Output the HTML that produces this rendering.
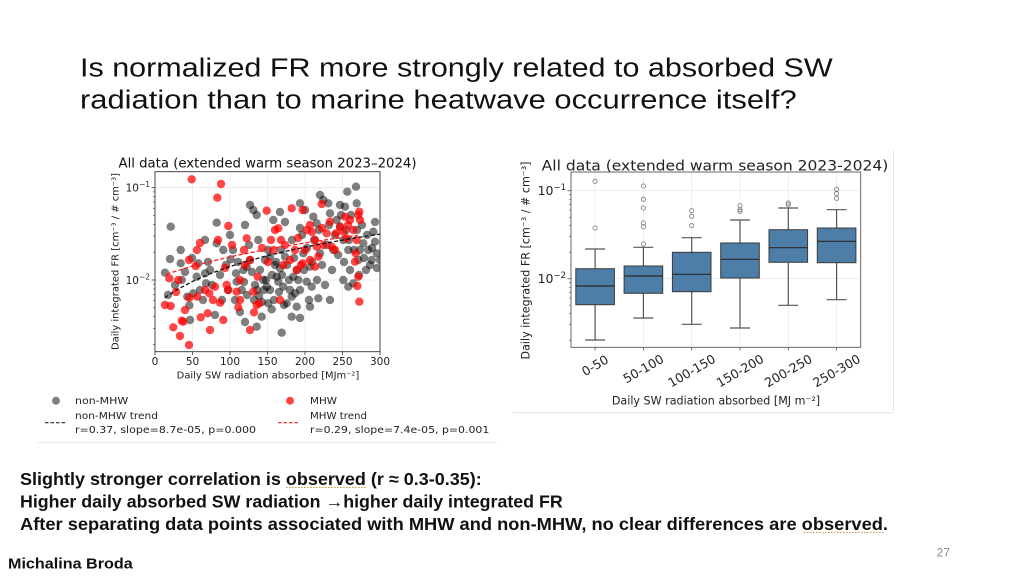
<!DOCTYPE html>
<html><head><meta charset="utf-8">
<style>
html,body{margin:0;padding:0;background:#fff;}
svg{display:block;}
.dv{font-family:"DejaVu Sans","Liberation Sans",sans-serif;}
.ls{font-family:"Liberation Sans",sans-serif;}
</style></head>
<body>
<svg width="1024" height="578" viewBox="0 0 1024 578" xmlns="http://www.w3.org/2000/svg">
<rect width="1024" height="578" fill="#fff"/>

<text class="ls" x="80" y="76.7" font-size="25.5" fill="#111" textLength="752.7" lengthAdjust="spacingAndGlyphs">Is normalized FR more strongly related to absorbed SW</text>
<text class="ls" x="80" y="108.3" font-size="25.5" fill="#111" textLength="716.7" lengthAdjust="spacingAndGlyphs">radiation than to marine heatwave occurrence itself?</text>

<!-- LEFT CHART -->
<defs><clipPath id="lc"><rect x="155" y="171.7" width="225" height="180"/></clipPath></defs>
<g stroke="#e9e9e9" stroke-width="0.8">
<line x1="192.5" y1="171.7" x2="192.5" y2="351.7"/><line x1="230" y1="171.7" x2="230" y2="351.7"/>
<line x1="267.5" y1="171.7" x2="267.5" y2="351.7"/><line x1="305" y1="171.7" x2="305" y2="351.7"/>
<line x1="342.5" y1="171.7" x2="342.5" y2="351.7"/>
<line x1="155" y1="187.7" x2="380" y2="187.7"/><line x1="155" y1="280" x2="380" y2="280"/>
</g>
<g clip-path="url(#lc)">
<g fill="#000" fill-opacity="0.5">
<circle cx="165" cy="272.7" r="4.2"/><circle cx="170" cy="259" r="4.2"/><circle cx="170.7" cy="226.7" r="4.2"/>
<circle cx="180.7" cy="250" r="4.2"/><circle cx="180.7" cy="263.3" r="4.2"/><circle cx="181.7" cy="280" r="4.2"/>
<circle cx="187.3" cy="296.7" r="4.2"/><circle cx="189.3" cy="305.3" r="4.2"/><circle cx="193.3" cy="293.3" r="4.2"/>
<circle cx="196.7" cy="276.7" r="4.2"/><circle cx="198.3" cy="263.3" r="4.2"/><circle cx="205" cy="273.3" r="4.2"/>
<circle cx="206" cy="283.3" r="4.2"/><circle cx="210" cy="270" r="4.2"/><circle cx="216.7" cy="222.7" r="4.2"/>
<circle cx="216.7" cy="243.3" r="4.2"/><circle cx="223.3" cy="250" r="4.2"/><circle cx="230.7" cy="259.3" r="4.2"/>
<circle cx="236" cy="273.3" r="4.2"/><circle cx="236.7" cy="281.7" r="4.2"/><circle cx="241.7" cy="290" r="4.2"/>
<circle cx="243.3" cy="270" r="4.2"/><circle cx="246.7" cy="266.7" r="4.2"/><circle cx="250" cy="260" r="4.2"/>
<circle cx="245" cy="225" r="4.2"/><circle cx="253.3" cy="210" r="4.2"/><circle cx="256.7" cy="215" r="4.2"/>
<circle cx="258.3" cy="240" r="4.2"/><circle cx="263.3" cy="280" r="4.2"/><circle cx="264" cy="290" r="4.2"/>
<circle cx="266.7" cy="286.7" r="4.2"/><circle cx="268.3" cy="303.3" r="4.2"/><circle cx="270" cy="256.7" r="4.2"/>
<circle cx="273.3" cy="220" r="4.2"/><circle cx="275" cy="265" r="4.2"/><circle cx="276.7" cy="276.7" r="4.2"/>
<circle cx="278.3" cy="281.7" r="4.2"/><circle cx="280" cy="268.3" r="4.2"/><circle cx="283.3" cy="286.7" r="4.2"/>
<circle cx="285" cy="256.7" r="4.2"/><circle cx="286.7" cy="303.3" r="4.2"/><circle cx="290" cy="290" r="4.2"/>
<circle cx="291.7" cy="316.7" r="4.2"/><circle cx="293.3" cy="276.7" r="4.2"/><circle cx="295" cy="293.3" r="4.2"/>
<circle cx="296.7" cy="306.7" r="4.2"/><circle cx="298.3" cy="280" r="4.2"/><circle cx="300" cy="203.3" r="4.2"/>
<circle cx="303.3" cy="253.3" r="4.2"/><circle cx="306.7" cy="281.7" r="4.2"/><circle cx="310" cy="266.7" r="4.2"/>
<circle cx="311.7" cy="286.7" r="4.2"/><circle cx="313.3" cy="216.7" r="4.2"/><circle cx="316.7" cy="223.3" r="4.2"/>
<circle cx="318.3" cy="298.3" r="4.2"/><circle cx="320" cy="253.3" r="4.2"/><circle cx="323.3" cy="200" r="4.2"/>
<circle cx="328.3" cy="203.3" r="4.2"/><circle cx="330" cy="213.3" r="4.2"/><circle cx="333.3" cy="250" r="4.2"/>
<circle cx="336.7" cy="220" r="4.2"/><circle cx="340" cy="226.7" r="4.2"/><circle cx="343.3" cy="240" r="4.2"/>
<circle cx="345" cy="206.7" r="4.2"/><circle cx="347.3" cy="191.7" r="4.2"/><circle cx="348.3" cy="250" r="4.2"/>
<circle cx="350" cy="270" r="4.2"/><circle cx="353.3" cy="283.3" r="4.2"/><circle cx="356" cy="186.7" r="4.2"/>
<circle cx="356.7" cy="203.3" r="4.2"/><circle cx="358.3" cy="260" r="4.2"/><circle cx="360" cy="250" r="4.2"/>
<circle cx="363.3" cy="243.3" r="4.2"/><circle cx="366" cy="270" r="4.2"/><circle cx="368.3" cy="250" r="4.2"/>
<circle cx="371.7" cy="260" r="4.2"/><circle cx="373.3" cy="231.7" r="4.2"/><circle cx="375" cy="241.7" r="4.2"/>
<circle cx="376.7" cy="253.3" r="4.2"/><circle cx="380" cy="260" r="4.2"/><circle cx="343.3" cy="280" r="4.2"/>
<circle cx="348.3" cy="286.7" r="4.2"/><circle cx="256.7" cy="326.7" r="4.2"/><circle cx="281.7" cy="332.7" r="4.2"/>
<circle cx="291.7" cy="296.7" r="4.2"/><circle cx="271.7" cy="309.3" r="4.2"/><circle cx="310" cy="306.7" r="4.2"/>
<circle cx="261.7" cy="316.7" r="4.2"/>
<circle cx="175" cy="285" r="4.2"/><circle cx="185" cy="272" r="4.2"/><circle cx="192" cy="258" r="4.2"/>
<circle cx="200" cy="290" r="4.2"/><circle cx="203" cy="300" r="4.2"/><circle cx="208" cy="262" r="4.2"/>
<circle cx="212" cy="285" r="4.2"/><circle cx="220" cy="275" r="4.2"/><circle cx="222" cy="300" r="4.2"/>
<circle cx="226" cy="265" r="4.2"/><circle cx="228" cy="290" r="4.2"/><circle cx="233" cy="250" r="4.2"/>
<circle cx="235" cy="300" r="4.2"/><circle cx="238" cy="262" r="4.2"/><circle cx="240" cy="312" r="4.2"/>
<circle cx="244" cy="282" r="4.2"/><circle cx="247" cy="295" r="4.2"/><circle cx="249" cy="245" r="4.2"/>
<circle cx="252" cy="272" r="4.2"/><circle cx="254" cy="300" r="4.2"/><circle cx="255" cy="285" r="4.2"/>
<circle cx="257" cy="290" r="4.2"/><circle cx="259" cy="296" r="4.2"/><circle cx="260" cy="270" r="4.2"/>
<circle cx="262" cy="302" r="4.2"/><circle cx="265" cy="260" r="4.2"/><circle cx="266" cy="280" r="4.2"/>
<circle cx="268" cy="250" r="4.2"/><circle cx="270" cy="290" r="4.2"/><circle cx="272" cy="275" r="4.2"/>
<circle cx="274" cy="300" r="4.2"/><circle cx="276" cy="262" r="4.2"/><circle cx="279" cy="292" r="4.2"/>
<circle cx="281" cy="250" r="4.2"/><circle cx="282" cy="275" r="4.2"/><circle cx="284" cy="305" r="4.2"/>
<circle cx="287" cy="265" r="4.2"/><circle cx="289" cy="280" r="4.2"/><circle cx="292" cy="240" r="4.2"/>
<circle cx="294" cy="258" r="4.2"/><circle cx="297" cy="270" r="4.2"/><circle cx="300" cy="290" r="4.2"/>
<circle cx="302" cy="235" r="4.2"/><circle cx="304" cy="270" r="4.2"/><circle cx="307" cy="248" r="4.2"/>
<circle cx="309" cy="300" r="4.2"/><circle cx="312" cy="262" r="4.2"/><circle cx="314" cy="240" r="4.2"/>
<circle cx="317" cy="280" r="4.2"/><circle cx="319" cy="230" r="4.2"/><circle cx="322" cy="265" r="4.2"/>
<circle cx="325" cy="285" r="4.2"/><circle cx="327" cy="245" r="4.2"/><circle cx="329" cy="225" r="4.2"/>
<circle cx="332" cy="270" r="4.2"/><circle cx="335" cy="235" r="4.2"/><circle cx="338" cy="255" r="4.2"/>
<circle cx="341" cy="215" r="4.2"/><circle cx="344" cy="262" r="4.2"/><circle cx="346" cy="230" r="4.2"/>
<circle cx="349" cy="240" r="4.2"/><circle cx="351" cy="215" r="4.2"/><circle cx="354" cy="250" r="4.2"/>
<circle cx="357" cy="230" r="4.2"/><circle cx="359" cy="275" r="4.2"/><circle cx="362" cy="225" r="4.2"/>
<circle cx="364" cy="258" r="4.2"/><circle cx="367" cy="235" r="4.2"/><circle cx="370" cy="265" r="4.2"/>
<circle cx="372" cy="248" r="4.2"/><circle cx="375" cy="222" r="4.2"/><circle cx="377" cy="268" r="4.2"/>
<circle cx="190" cy="320" r="4.2"/><circle cx="215" cy="315" r="4.2"/><circle cx="245" cy="322" r="4.2"/>
<circle cx="300" cy="318" r="4.2"/><circle cx="330" cy="300" r="4.2"/><circle cx="250" cy="205" r="4.2"/>
<circle cx="280" cy="212" r="4.2"/><circle cx="305" cy="210" r="4.2"/><circle cx="340" cy="205" r="4.2"/>
<circle cx="320" cy="195" r="4.2"/><circle cx="168" cy="295" r="4.2"/><circle cx="205" cy="240" r="4.2"/>
<circle cx="230" cy="235" r="4.2"/><circle cx="285" cy="222" r="4.2"/><circle cx="300" cy="228" r="4.2"/>
</g>
<g fill="#ff0000" fill-opacity="0.72">
<circle cx="191.7" cy="179.3" r="4.2"/><circle cx="221" cy="184" r="4.2"/><circle cx="217.3" cy="197.7" r="4.2"/>
<circle cx="228.3" cy="226" r="4.2"/><circle cx="266.7" cy="210.7" r="4.2"/><circle cx="291.7" cy="208.3" r="4.2"/>
<circle cx="321.7" cy="204" r="4.2"/><circle cx="302.7" cy="210" r="4.2"/><circle cx="170.7" cy="306" r="4.2"/>
<circle cx="173.3" cy="327.3" r="4.2"/><circle cx="180" cy="336" r="4.2"/><circle cx="189" cy="345" r="4.2"/>
<circle cx="181.7" cy="320.7" r="4.2"/><circle cx="183.3" cy="321.7" r="4.2"/><circle cx="169.3" cy="278.3" r="4.2"/>
<circle cx="178.3" cy="280" r="4.2"/><circle cx="189" cy="260" r="4.2"/><circle cx="195.7" cy="266" r="4.2"/>
<circle cx="189.3" cy="297.7" r="4.2"/><circle cx="197.3" cy="296.7" r="4.2"/><circle cx="200.7" cy="317.3" r="4.2"/>
<circle cx="207.7" cy="313.3" r="4.2"/><circle cx="209.3" cy="293.3" r="4.2"/><circle cx="215" cy="286.7" r="4.2"/>
<circle cx="220" cy="302.7" r="4.2"/><circle cx="223.3" cy="320" r="4.2"/><circle cx="226.7" cy="285" r="4.2"/>
<circle cx="228.3" cy="290" r="4.2"/><circle cx="236.7" cy="291.7" r="4.2"/><circle cx="238.3" cy="307.3" r="4.2"/>
<circle cx="240" cy="280" r="4.2"/><circle cx="244" cy="250" r="4.2"/><circle cx="246.7" cy="238.3" r="4.2"/>
<circle cx="250" cy="260" r="4.2"/><circle cx="253.3" cy="291.7" r="4.2"/><circle cx="254" cy="312.3" r="4.2"/>
<circle cx="257.7" cy="276.7" r="4.2"/><circle cx="259.3" cy="303.3" r="4.2"/><circle cx="256.7" cy="305" r="4.2"/>
<circle cx="271" cy="240" r="4.2"/><circle cx="273.3" cy="250" r="4.2"/><circle cx="278.3" cy="228.3" r="4.2"/>
<circle cx="281" cy="240" r="4.2"/><circle cx="283.3" cy="265" r="4.2"/><circle cx="290" cy="260" r="4.2"/>
<circle cx="295" cy="250" r="4.2"/><circle cx="301" cy="265" r="4.2"/><circle cx="296.7" cy="270" r="4.2"/>
<circle cx="306.7" cy="230" r="4.2"/><circle cx="310" cy="225" r="4.2"/><circle cx="315" cy="240" r="4.2"/>
<circle cx="316.7" cy="246.7" r="4.2"/><circle cx="302.7" cy="263.3" r="4.2"/><circle cx="310" cy="260" r="4.2"/>
<circle cx="315" cy="266.7" r="4.2"/><circle cx="318.3" cy="256.7" r="4.2"/><circle cx="323.3" cy="245" r="4.2"/>
<circle cx="326.7" cy="233.3" r="4.2"/><circle cx="330" cy="221.7" r="4.2"/><circle cx="331.7" cy="246.7" r="4.2"/>
<circle cx="336" cy="233.3" r="4.2"/><circle cx="340" cy="226.7" r="4.2"/><circle cx="343.3" cy="231.7" r="4.2"/>
<circle cx="345" cy="216.7" r="4.2"/><circle cx="346.7" cy="238.3" r="4.2"/><circle cx="350" cy="220" r="4.2"/>
<circle cx="353.3" cy="230" r="4.2"/><circle cx="356.7" cy="240" r="4.2"/><circle cx="358.3" cy="215" r="4.2"/>
<circle cx="359.3" cy="211.7" r="4.2"/><circle cx="355.7" cy="253.3" r="4.2"/><circle cx="358.3" cy="276.7" r="4.2"/>
<circle cx="357.3" cy="286" r="4.2"/><circle cx="359.3" cy="301.7" r="4.2"/><circle cx="355" cy="261.7" r="4.2"/>
<circle cx="165" cy="305" r="4.2"/><circle cx="176" cy="292" r="4.2"/><circle cx="185" cy="310" r="4.2"/>
<circle cx="197" cy="250" r="4.2"/><circle cx="205" cy="290" r="4.2"/><circle cx="213" cy="300" r="4.2"/>
<circle cx="225" cy="268" r="4.2"/><circle cx="232" cy="245" r="4.2"/><circle cx="240" cy="300" r="4.2"/>
<circle cx="262" cy="248" r="4.2"/><circle cx="268" cy="262" r="4.2"/><circle cx="275" cy="230" r="4.2"/>
<circle cx="285" cy="245" r="4.2"/><circle cx="298" cy="238" r="4.2"/><circle cx="305" cy="250" r="4.2"/>
<circle cx="312" cy="232" r="4.2"/><circle cx="322" cy="228" r="4.2"/><circle cx="335" cy="250" r="4.2"/>
<circle cx="348" cy="225" r="4.2"/><circle cx="360" cy="220" r="4.2"/><circle cx="200" cy="243" r="4.2"/>
<circle cx="218" cy="240" r="4.2"/><circle cx="245" cy="265" r="4.2"/><circle cx="280" cy="300" r="4.2"/>
<circle cx="210" cy="330" r="4.2"/><circle cx="250" cy="330" r="4.2"/>
</g>
<path d="M166.6,274.1 L192.5,266.1 L230,256.8 L267.5,249.2 L305,242.9 L342.5,237.4 L357.5,235.4" fill="none" stroke="#ff1a1a" stroke-width="1.3" stroke-dasharray="4 2.2"/>
<path d="M164.75,297.7 L177.5,289.4 L192.5,281.4 L211.25,273.3 L230,266.5 L248.75,260.7 L267.5,255.7 L286.25,251.2 L305,247.1 L323.75,243.5 L342.5,240.1 L361.25,237 L380,234.1" fill="none" stroke="#111" stroke-width="1.3" stroke-dasharray="4 2.2"/>
</g>
<rect x="155" y="171.7" width="225" height="180" fill="none" stroke="#333" stroke-width="0.9"/>
<g stroke="#333" stroke-width="0.8">
<line x1="155" y1="351.7" x2="155" y2="355"/><line x1="192.5" y1="351.7" x2="192.5" y2="355"/>
<line x1="230" y1="351.7" x2="230" y2="355"/><line x1="267.5" y1="351.7" x2="267.5" y2="355"/>
<line x1="305" y1="351.7" x2="305" y2="355"/><line x1="342.5" y1="351.7" x2="342.5" y2="355"/>
<line x1="380" y1="351.7" x2="380" y2="355"/>
<line x1="151.5" y1="187.7" x2="155" y2="187.7"/><line x1="151.5" y1="280" x2="155" y2="280"/>
<g stroke-width="0.6">
<line x1="153" y1="344.5" x2="155" y2="344.5"/><line x1="153" y1="328.3" x2="155" y2="328.3"/>
<line x1="153" y1="316.7" x2="155" y2="316.7"/><line x1="153" y1="307.8" x2="155" y2="307.8"/>
<line x1="153" y1="300.5" x2="155" y2="300.5"/><line x1="153" y1="294.3" x2="155" y2="294.3"/>
<line x1="153" y1="288.9" x2="155" y2="288.9"/><line x1="153" y1="284.2" x2="155" y2="284.2"/>
<line x1="153" y1="252.2" x2="155" y2="252.2"/><line x1="153" y1="236" x2="155" y2="236"/>
<line x1="153" y1="224.4" x2="155" y2="224.4"/><line x1="153" y1="215.5" x2="155" y2="215.5"/>
<line x1="153" y1="208.2" x2="155" y2="208.2"/><line x1="153" y1="202" x2="155" y2="202"/>
<line x1="153" y1="196.6" x2="155" y2="196.6"/><line x1="153" y1="191.9" x2="155" y2="191.9"/>
</g>
</g>
<g class="dv" font-size="10.5" fill="#222" text-anchor="middle">
<text x="155" y="365">0</text><text x="192.5" y="365">50</text><text x="230" y="365">100</text>
<text x="267.5" y="365">150</text><text x="305" y="365">200</text><text x="342.5" y="365">250</text>
<text x="380" y="365">300</text>
</g>
<g class="dv" fill="#222" text-anchor="end">
<text x="150" y="191.5" font-size="10.5">10<tspan dy="-4.5" font-size="7.5">−1</tspan></text>
<text x="150" y="283.8" font-size="10.5">10<tspan dy="-4.5" font-size="7.5">−2</tspan></text>
</g>
<text class="dv" x="267.5" y="167.7" font-size="13" fill="#111" text-anchor="middle" textLength="298" lengthAdjust="spacingAndGlyphs">All data (extended warm season 2023–2024)</text>
<text class="dv" x="268" y="378.3" font-size="9.6" fill="#222" text-anchor="middle" textLength="182.6" lengthAdjust="spacingAndGlyphs">Daily SW radiation absorbed [MJm⁻²]</text>
<text class="dv" transform="translate(118.5,261.5) rotate(-90)" font-size="9.6" fill="#222" text-anchor="middle" textLength="177" lengthAdjust="spacingAndGlyphs">Daily integrated FR [cm⁻³ / # cm⁻³]</text>

<line x1="37" y1="442.7" x2="497" y2="442.7" stroke="#ececec" stroke-width="1"/>
<circle cx="56" cy="400.7" r="4" fill="#808080"/>
<circle cx="290" cy="400.7" r="4" fill="#ff4545"/>
<line x1="45" y1="422.7" x2="67" y2="422.7" stroke="#222" stroke-width="1.2" stroke-dasharray="3.5 2"/>
<line x1="278" y1="422.7" x2="300" y2="422.7" stroke="#ff2020" stroke-width="1.2" stroke-dasharray="3.5 2"/>
<g class="dv" font-size="10" fill="#222">
<text x="75" y="404.2" textLength="53.3" lengthAdjust="spacingAndGlyphs">non-MHW</text>
<text x="75" y="418.8" textLength="83" lengthAdjust="spacingAndGlyphs">non-MHW trend</text>
<text x="75" y="432.8" textLength="181" lengthAdjust="spacingAndGlyphs">r=0.37, slope=8.7e-05, p=0.000</text>
<text x="310" y="404.2" textLength="27" lengthAdjust="spacingAndGlyphs">MHW</text>
<text x="310" y="418.8" textLength="57" lengthAdjust="spacingAndGlyphs">MHW trend</text>
<text x="310" y="432.8" textLength="179.3" lengthAdjust="spacingAndGlyphs">r=0.29, slope=7.4e-05, p=0.001</text>
</g>

<!-- RIGHT CHART -->
<line x1="513" y1="412.7" x2="894" y2="412.7" stroke="#e6e6e6" stroke-width="1"/>
<line x1="893.5" y1="150" x2="893.5" y2="413" stroke="#e6e6e6" stroke-width="1"/>
<g stroke="#ebebeb" stroke-width="0.8">
<line x1="595.1" y1="172" x2="595.1" y2="347.3"/><line x1="643.4" y1="172" x2="643.4" y2="347.3"/>
<line x1="691.7" y1="172" x2="691.7" y2="347.3"/><line x1="740" y1="172" x2="740" y2="347.3"/>
<line x1="788.3" y1="172" x2="788.3" y2="347.3"/><line x1="836.6" y1="172" x2="836.6" y2="347.3"/>
<line x1="571" y1="190.7" x2="860.7" y2="190.7"/><line x1="571" y1="278.7" x2="860.7" y2="278.7"/>
</g>
<g stroke="#555" stroke-width="1.2">
<line x1="595.1" y1="249" x2="595.1" y2="268.7"/><line x1="595.1" y1="304.7" x2="595.1" y2="340"/>
<line x1="585.1" y1="249" x2="605.1" y2="249"/><line x1="585.1" y1="340" x2="605.1" y2="340"/>
<line x1="643.4" y1="247.3" x2="643.4" y2="266"/><line x1="643.4" y1="293.3" x2="643.4" y2="318"/>
<line x1="633.4" y1="247.3" x2="653.4" y2="247.3"/><line x1="633.4" y1="318" x2="653.4" y2="318"/>
<line x1="691.7" y1="237.7" x2="691.7" y2="252.3"/><line x1="691.7" y1="291.7" x2="691.7" y2="324.3"/>
<line x1="681.7" y1="237.7" x2="701.7" y2="237.7"/><line x1="681.7" y1="324.3" x2="701.7" y2="324.3"/>
<line x1="740" y1="220" x2="740" y2="243"/><line x1="740" y1="278" x2="740" y2="328"/>
<line x1="730" y1="220" x2="750" y2="220"/><line x1="730" y1="328" x2="750" y2="328"/>
<line x1="788.3" y1="208" x2="788.3" y2="229.7"/><line x1="788.3" y1="262.3" x2="788.3" y2="305.3"/>
<line x1="778.3" y1="208" x2="798.3" y2="208"/><line x1="778.3" y1="305.3" x2="798.3" y2="305.3"/>
<line x1="836.6" y1="209.7" x2="836.6" y2="228"/><line x1="836.6" y1="262.7" x2="836.6" y2="299.7"/>
<line x1="826.6" y1="209.7" x2="846.6" y2="209.7"/><line x1="826.6" y1="299.7" x2="846.6" y2="299.7"/>
</g>
<g fill="#4d7ea8" stroke="#3a3a3a" stroke-width="1">
<rect x="575.8" y="268.7" width="38.6" height="36"/>
<rect x="624.1" y="266" width="38.6" height="27.3"/>
<rect x="672.4" y="252.3" width="38.6" height="39.4"/>
<rect x="720.7" y="243" width="38.6" height="35"/>
<rect x="769" y="229.7" width="38.6" height="32.6"/>
<rect x="817.3" y="228" width="38.6" height="34.7"/>
</g>
<g stroke="#2a2a2a" stroke-width="1.2">
<line x1="575.8" y1="286" x2="614.4" y2="286"/>
<line x1="624.1" y1="276" x2="662.7" y2="276"/>
<line x1="672.4" y1="274.3" x2="711" y2="274.3"/>
<line x1="720.7" y1="259.3" x2="759.3" y2="259.3"/>
<line x1="769" y1="247.7" x2="807.6" y2="247.7"/>
<line x1="817.3" y1="241.3" x2="855.9" y2="241.3"/>
</g>
<g fill="none" stroke="#777" stroke-width="0.8">
<circle cx="595.1" cy="181.3" r="2.1"/><circle cx="595.1" cy="228" r="2.1"/>
<circle cx="643.4" cy="186" r="2.1"/><circle cx="643.4" cy="199.3" r="2.1"/><circle cx="643.4" cy="208" r="2.1"/>
<circle cx="643.4" cy="223" r="2.1"/><circle cx="643.4" cy="226.7" r="2.1"/><circle cx="643.4" cy="244" r="2.1"/>
<circle cx="691.7" cy="210.7" r="2.1"/><circle cx="691.7" cy="216.3" r="2.1"/><circle cx="691.7" cy="225.7" r="2.1"/>
<circle cx="740" cy="205.7" r="2.1"/><circle cx="740" cy="209.7" r="2.1"/><circle cx="740" cy="211.3" r="2.1"/>
<circle cx="788.3" cy="203" r="2.1"/><circle cx="788.3" cy="204.7" r="2.1"/>
<circle cx="836.6" cy="189.3" r="2.1"/><circle cx="836.6" cy="193.7" r="2.1"/><circle cx="836.6" cy="198.3" r="2.1"/>
</g>
<rect x="571" y="172" width="289.7" height="175.3" fill="none" stroke="#555" stroke-width="0.9"/>
<g stroke="#555" stroke-width="0.8">
<line x1="567.5" y1="190.7" x2="571" y2="190.7"/><line x1="567.5" y1="278.7" x2="571" y2="278.7"/>
<g stroke-width="0.6">
<line x1="569" y1="340.2" x2="571" y2="340.2"/><line x1="569" y1="324.7" x2="571" y2="324.7"/>
<line x1="569" y1="313.7" x2="571" y2="313.7"/><line x1="569" y1="305.2" x2="571" y2="305.2"/>
<line x1="569" y1="298.2" x2="571" y2="298.2"/><line x1="569" y1="292.3" x2="571" y2="292.3"/>
<line x1="569" y1="287.2" x2="571" y2="287.2"/><line x1="569" y1="282.7" x2="571" y2="282.7"/>
<line x1="569" y1="252.2" x2="571" y2="252.2"/><line x1="569" y1="236.7" x2="571" y2="236.7"/>
<line x1="569" y1="225.7" x2="571" y2="225.7"/><line x1="569" y1="217.2" x2="571" y2="217.2"/>
<line x1="569" y1="210.2" x2="571" y2="210.2"/><line x1="569" y1="204.3" x2="571" y2="204.3"/>
<line x1="569" y1="199.2" x2="571" y2="199.2"/><line x1="569" y1="194.7" x2="571" y2="194.7"/>
</g>
<line x1="595.1" y1="347.3" x2="595.1" y2="350.5"/><line x1="643.4" y1="347.3" x2="643.4" y2="350.5"/>
<line x1="691.7" y1="347.3" x2="691.7" y2="350.5"/><line x1="740" y1="347.3" x2="740" y2="350.5"/>
<line x1="788.3" y1="347.3" x2="788.3" y2="350.5"/><line x1="836.6" y1="347.3" x2="836.6" y2="350.5"/>
</g>
<text class="dv" x="715" y="170.7" font-size="14.5" fill="#222" text-anchor="middle" textLength="346.6" lengthAdjust="spacingAndGlyphs">All data (extended warm season 2023-2024)</text>
<g class="dv" fill="#222" text-anchor="end">
<text x="566" y="195" font-size="12.5">10<tspan dy="-5" font-size="8.5">−1</tspan></text>
<text x="566" y="283" font-size="12.5">10<tspan dy="-5" font-size="8.5">−2</tspan></text>
</g>
<g class="dv" font-size="12.5" fill="#222" text-anchor="middle">
<text transform="translate(595.1,365.5) rotate(-30)" dy=".35em">0-50</text>
<text transform="translate(643.4,368.8) rotate(-30)" dy=".35em">50-100</text>
<text transform="translate(691.7,370.8) rotate(-30)" dy=".35em">100-150</text>
<text transform="translate(740,370.8) rotate(-30)" dy=".35em">150-200</text>
<text transform="translate(788.3,370.8) rotate(-30)" dy=".35em">200-250</text>
<text transform="translate(836.6,370.8) rotate(-30)" dy=".35em">250-300</text>
</g>
<text class="dv" x="716" y="404.7" font-size="11.2" fill="#222" text-anchor="middle" textLength="208.3" lengthAdjust="spacingAndGlyphs">Daily SW radiation absorbed [MJ m⁻²]</text>
<text class="dv" transform="translate(529.5,260.5) rotate(-90)" font-size="11.2" fill="#222" text-anchor="middle" textLength="198" lengthAdjust="spacingAndGlyphs">Daily integrated FR [cm⁻³ / # cm⁻³]</text>

<!-- BOTTOM TEXT -->
<g class="ls" font-weight="bold" font-size="17.6" fill="#111">
<text x="20" y="485" textLength="461.7" lengthAdjust="spacingAndGlyphs">Slightly stronger correlation is observed (r ≈ 0.3-0.35):</text>
<text x="20" y="507.7" textLength="542.7" lengthAdjust="spacingAndGlyphs">Higher daily absorbed SW radiation →higher daily integrated FR</text>
<text x="20" y="530" textLength="868" lengthAdjust="spacingAndGlyphs">After separating data points associated with MHW and non-MHW, no clear differences are observed.</text>
</g>
<g stroke="#c9a040" stroke-width="1.1" stroke-dasharray="1.6 1.4">
<line x1="286" y1="487.5" x2="366.7" y2="487.5"/>
<line x1="804" y1="532.5" x2="885" y2="532.5"/>
</g>
<text class="ls" x="8" y="568.3" font-weight="bold" font-size="15" fill="#111" textLength="124.7" lengthAdjust="spacingAndGlyphs">Michalina Broda</text>
<text class="ls" x="936.7" y="556.6" font-size="11.5" fill="#888" textLength="13.3" lengthAdjust="spacingAndGlyphs">27</text>
</svg>
</body></html>
